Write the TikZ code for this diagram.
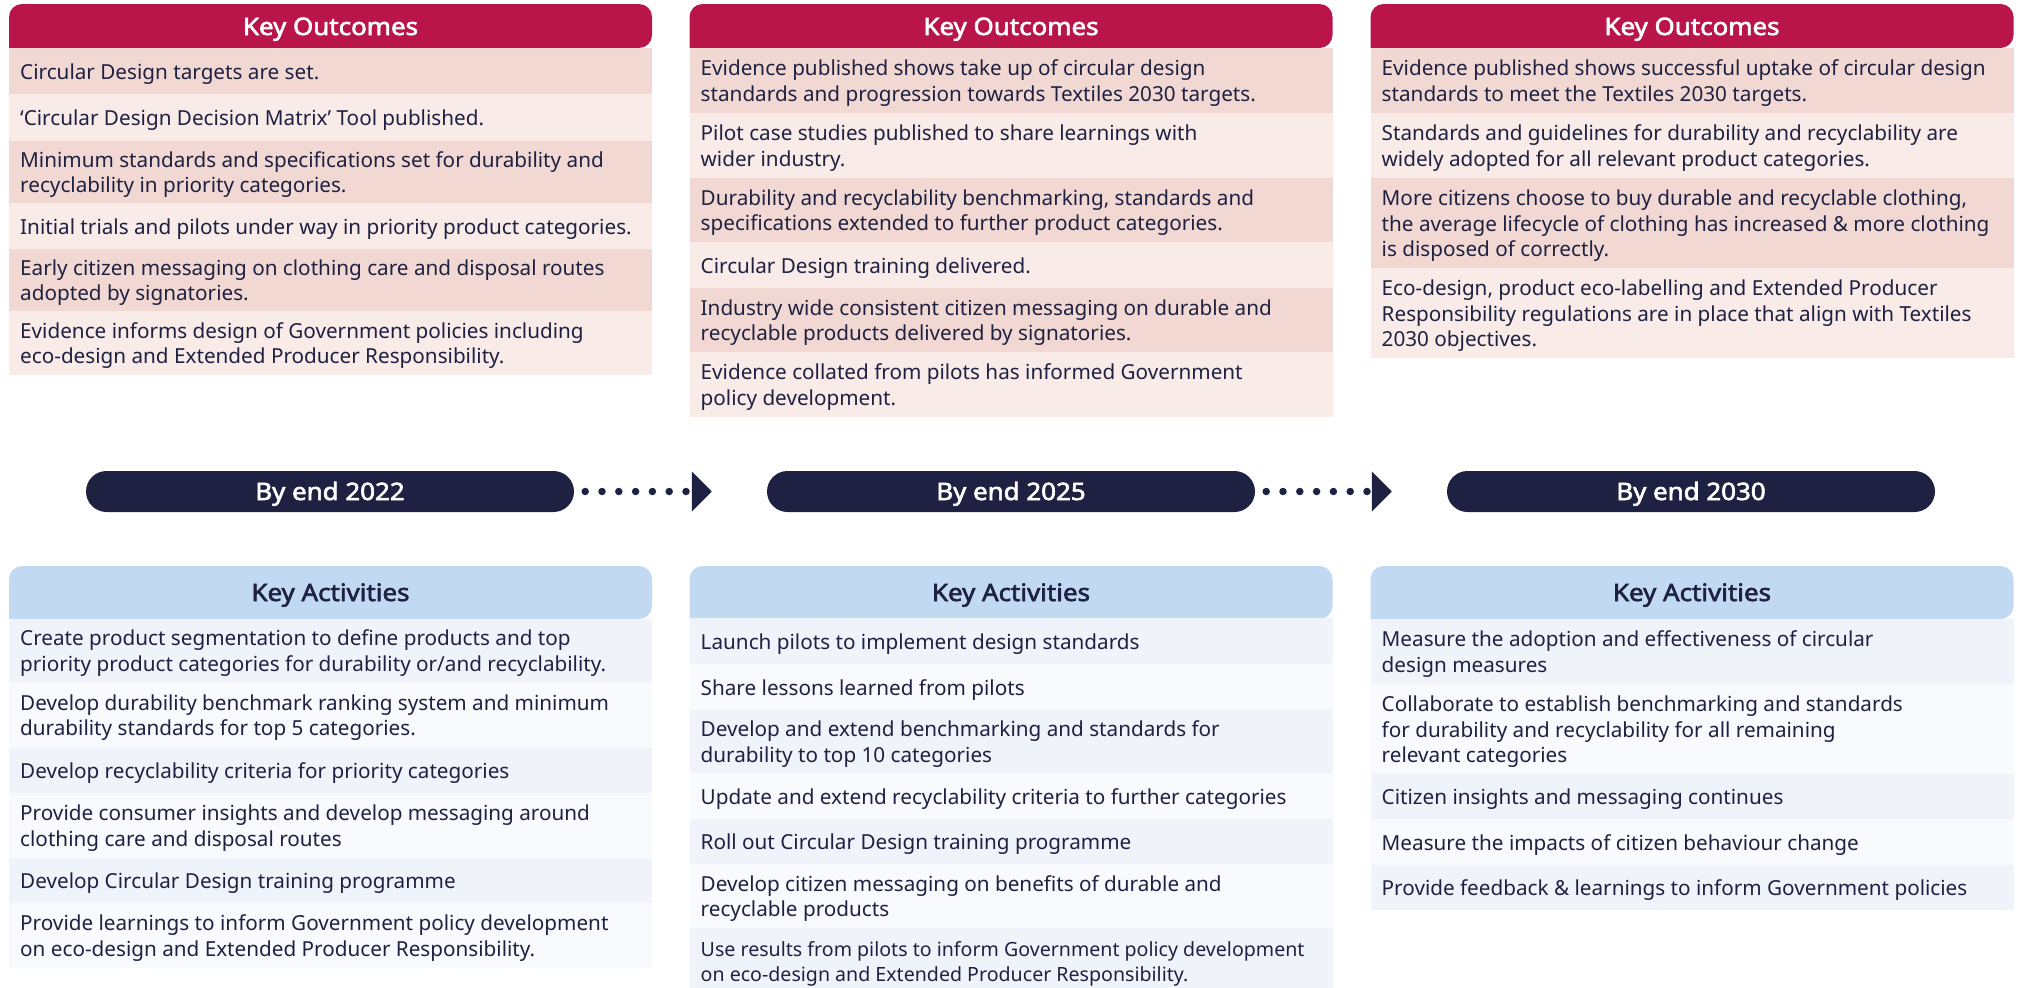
\documentclass[tikz,border=0pt]{standalone}
\usepackage{fontspec}
\setmainfont{Noto Sans}
\newfontfamily\headfont{Noto Sans}[FakeBold=2.5, FakeStretch=1.08]
\usepackage{xcolor}
\usepackage{tikz}
\usetikzlibrary{positioning, arrows.meta}
\definecolor{outred}{RGB}{186,21,74}
\definecolor{outdark}{RGB}{242,216,210}
\definecolor{outlight}{RGB}{248,235,232}
\definecolor{actblue}{RGB}{194,217,242}
\definecolor{actdark}{RGB}{240,244,250}
\definecolor{actlight}{RGB}{248,250,253}
\definecolor{navyink}{RGB}{31,33,66}
\newcommand{\rowtop}{\rule{0pt}{22pt}}
\newcommand{\rowbot}{\rule[-6pt]{0pt}{6pt}}

\begin{document}
\begin{tikzpicture}[x=1pt, y=-1pt,
    rowtext/.style={anchor=west, inner sep=0pt, align=left, text=navyink,
        font=\fontsize{20.7}{25.5}\selectfont},
    headtext/.style={anchor=base, font=\headfont\fontsize{24}{28}\selectfont},
    pill/.style={fill=navyink, text=white, rounded corners=20.5pt, minimum width=488pt,
        minimum height=41pt, inner sep=0pt, text height=18pt, text depth=1pt,
        font=\headfont\fontsize{24}{28}\selectfont},
    dotarrow/.style={navyink, line width=7.5pt, line cap=round, dash pattern=on 0pt off 16.8pt,
        shorten <=11pt, shorten >=55pt, -{Triangle[length=20pt, width=39pt]}}]
    \useasboundingbox (0,0) rectangle (2019,988);

    % Headers for the three columns
    \foreach \x [count=\c] in {9,689.5,1370.5} {
        % Outcomes header
        \fill[outred] (\x,48) [rounded corners=13pt] |- (\x+643,4) -- (\x+643,48) [sharp corners] -- cycle;
        \node[headtext, text=white] (oh\c) at (\x+321.5,35) {Key Outcomes};

        % Activities header
        \fill[actblue] (\x,619) [rounded corners=13pt] |- (\x+643,566) -- (\x+643,619) [sharp corners] -- cycle;
        \node[headtext, text=navyink] (ah\c) at (\x+321.5,601) {Key Activities};
    }

    % Outcomes, by end 2022
    \foreach \yt/\yb/\txt [count=\i] in {
        48/94/{Circular Design targets are set.},
        94/141/{‘Circular Design Decision Matrix’ Tool published.},
        141/203/{Minimum standards and specifications set for durability and\\recyclability in priority categories.},
        203/249/{Initial trials and pilots under way in priority product categories.},
        249/311/{Early citizen messaging on clothing care and disposal routes\\adopted by signatories.},
        311/375/{Evidence informs design of Government policies including\\eco-design and Extended Producer Responsibility.}} {
        \ifodd\i\relax \colorlet{rowfill}{outdark}\else \colorlet{rowfill}{outlight}\fi
        \fill[rowfill] (9,\yt) rectangle (652,\yb);
        \node[rowtext] (oa\i) at (20,{(\yt+\yb)/2}) {\rowtop\txt\rowbot};
    }

    % Outcomes, by end 2025
    \foreach \yt/\yb/\txt [count=\i] in {
        48/113/{Evidence published shows take up of circular design\\standards and progression towards Textiles 2030 targets.},
        113/178/{Pilot case studies published to share learnings with\\wider industry.},
        178/242/{Durability and recyclability benchmarking, standards and\\specifications extended to further product categories.},
        242/288/{Circular Design training delivered.},
        288/352/{Industry wide consistent citizen messaging on durable and\\recyclable products delivered by signatories.},
        352/417/{Evidence collated from pilots has informed Government\\policy development.}} {
        \ifodd\i\relax \colorlet{rowfill}{outdark}\else \colorlet{rowfill}{outlight}\fi
        \fill[rowfill] (689.5,\yt) rectangle (1332.5,\yb);
        \node[rowtext] (ob\i) at (700.5,{(\yt+\yb)/2}) {\rowtop\txt\rowbot};
    }

    % Outcomes, by end 2030
    \foreach \yt/\yb/\txt [count=\i] in {
        48/113/{Evidence published shows successful uptake of circular design\\standards to meet the Textiles 2030 targets.},
        113/178/{Standards and guidelines for durability and recyclability are\\widely adopted for all relevant product categories.},
        178/268/{More citizens choose to buy durable and recyclable clothing,\\the average lifecycle of clothing has increased \& more clothing\\is disposed of correctly.},
        268/358/{Eco-design, product eco-labelling and Extended Producer\\Responsibility regulations are in place that align with Textiles\\2030 objectives.}} {
        \ifodd\i\relax \colorlet{rowfill}{outdark}\else \colorlet{rowfill}{outlight}\fi
        \fill[rowfill] (1370.5,\yt) rectangle (2013.5,\yb);
        \node[rowtext] (oc\i) at (1381.5,{(\yt+\yb)/2}) {\rowtop\txt\rowbot};
    }

    % Timeline pills
    \foreach \x/\yr [count=\c] in {86/2022, 767/2025, 1447/2030} {
        \node[pill] (p\c) at (\x+244,491.5) {By end \yr};
    }
    \draw[dotarrow] (p1) -- (p2);
    \draw[dotarrow] (p2) -- (p3);

    % Activities, by end 2022
    \foreach \yt/\yb/\txt [count=\i] in {
        619/682/{Create product segmentation to define products and top\\priority product categories for durability or/and recyclability.},
        682/748/{Develop durability benchmark ranking system and minimum\\durability standards for top 5 categories.},
        748/793/{Develop recyclability criteria for priority categories},
        793/858/{Provide consumer insights and develop messaging around\\clothing care and disposal routes},
        858/903/{Develop Circular Design training programme},
        903/968/{Provide learnings to inform Government policy development\\on eco-design and Extended Producer Responsibility.}} {
        \ifodd\i\relax \colorlet{rowfill}{actdark}\else \colorlet{rowfill}{actlight}\fi
        \fill[rowfill] (9,\yt) rectangle (652,\yb);
        \node[rowtext] (aa\i) at (20,{(\yt+\yb)/2}) {\rowtop\txt\rowbot};
    }

    % Activities, by end 2025 (last row is set a little smaller)
    \foreach \yt/\yb/\fs/\txt [count=\i] in {
        618/664/20.7/{Launch pilots to implement design standards},
        664/710/20.7/{Share lessons learned from pilots},
        710/773/20.7/{Develop and extend benchmarking and standards for\\durability to top 10 categories},
        773/819/20.7/{Update and extend recyclability criteria to further categories},
        819/864/20.7/{Roll out Circular Design training programme},
        864/928/20.7/{Develop citizen messaging on benefits of durable and\\recyclable products},
        928/994/19.6/{Use results from pilots to inform Government policy development\\on eco-design and Extended Producer Responsibility.}} {
        \ifodd\i\relax \colorlet{rowfill}{actdark}\else \colorlet{rowfill}{actlight}\fi
        \fill[rowfill] (689.5,\yt) rectangle (1332.5,\yb);
        \node[rowtext, font=\fontsize{\fs}{25.5}\selectfont] (ab\i) at (700.5,{(\yt+\yb)/2}) {\rowtop\txt\rowbot};
    }

    % Activities, by end 2030
    \foreach \yt/\yb/\txt [count=\i] in {
        619/684/{Measure the adoption and effectiveness of circular\\design measures},
        684/774/{Collaborate to establish benchmarking and standards\\for durability and recyclability for all remaining\\relevant categories},
        774/819/{Citizen insights and messaging continues},
        819/865/{Measure the impacts of citizen behaviour change},
        865/910/{Provide feedback \& learnings to inform Government policies}} {
        \ifodd\i\relax \colorlet{rowfill}{actdark}\else \colorlet{rowfill}{actlight}\fi
        \fill[rowfill] (1370.5,\yt) rectangle (2013.5,\yb);
        \node[rowtext] (ac\i) at (1381.5,{(\yt+\yb)/2}) {\rowtop\txt\rowbot};
    }
\end{tikzpicture}
\end{document}
